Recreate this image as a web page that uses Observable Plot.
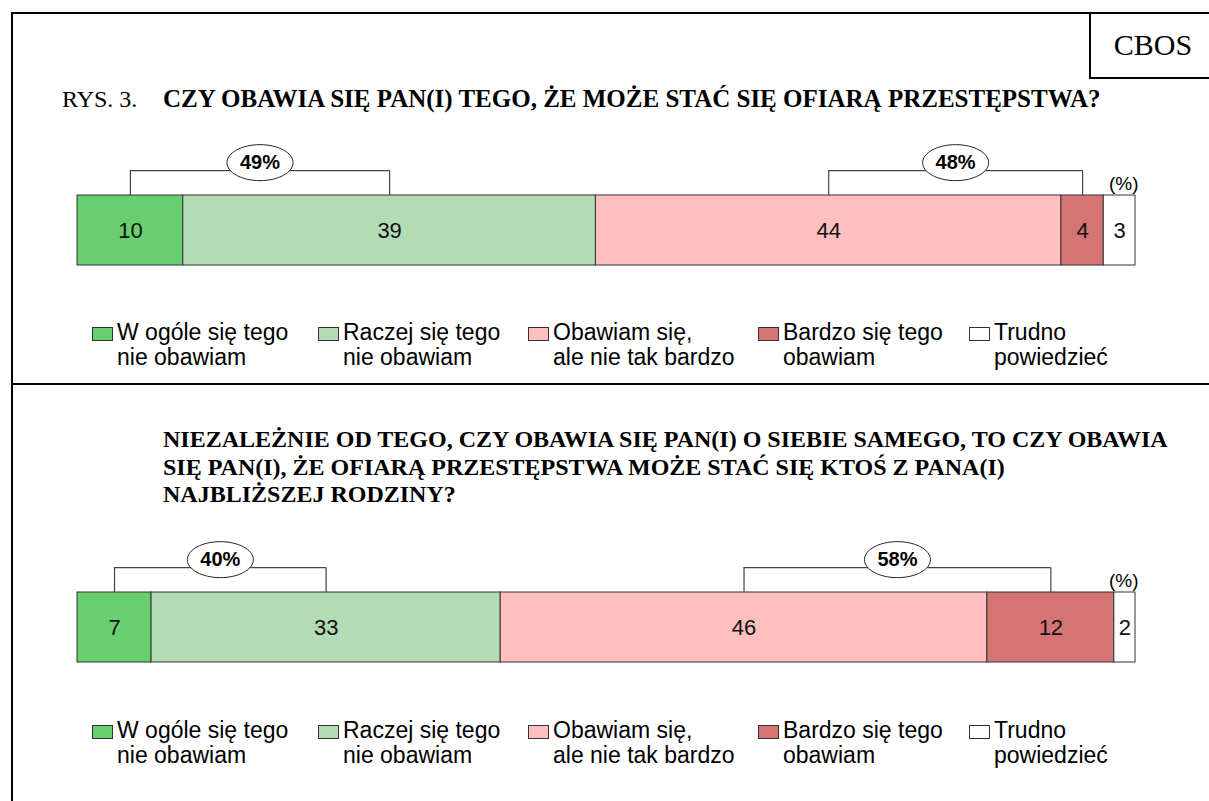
<!DOCTYPE html>
<html><head><meta charset="utf-8">
<script src="https://cdn.jsdelivr.net/npm/d3@7"></script>
<script src="https://cdn.jsdelivr.net/npm/@observablehq/plot@0.6"></script>
<style>
body{margin:0;background:#fff;}
#page{position:relative;width:1209px;height:801px;overflow:hidden;font-family:"Liberation Sans",Arial,sans-serif;color:#000;}
.abs{position:absolute;}
.line{position:absolute;background:#000;}
.serif{font-family:"Liberation Serif","Times New Roman",serif;white-space:nowrap;}
.legtext{position:absolute;white-space:pre;font-size:23px;line-height:25px;}
.sw{position:absolute;width:19px;height:12px;border:1px solid #333;}
</style></head><body><div id="page"></div>
<script>
// ---- data ----
const categories = ["W ogóle się tego\nnie obawiam", "Raczej się tego\nnie obawiam", "Obawiam się,\nale nie tak bardzo", "Bardzo się tego\nobawiam", "Trudno\npowiedzieć"];
const colors = ["#67cf70", "#b3dcb4", "#ffbfbf", "#d47474", "#ffffff"];
const q1Values = [10, 39, 44, 4, 3];
const q2Values = [7, 33, 46, 12, 2];
const bracketGroups = [[0, 1], [2, 3]];
const figureLabel = "RYS. 3.";
const q1Title = ["CZY OBAWIA SIĘ PAN(I) TEGO, ŻE MOŻE STAĆ SIĘ OFIARĄ PRZESTĘPSTWA?"];
const q2Title = ["NIEZALEŻNIE OD TEGO, CZY OBAWIA SIĘ PAN(I) O SIEBIE SAMEGO, TO CZY OBAWIA",
                 "SIĘ PAN(I), ŻE OFIARĄ PRZESTĘPSTWA MOŻE STAĆ SIĘ KTOŚ Z PANA(I)",
                 "NAJBLIŻSZEJ RODZINY?"];
const unitLabel = "(%)";
const sourceLabel = "CBOS";

// ---- layout ----
const page = document.getElementById("page");
function el(tag, cls, css, text) {
  const e = document.createElement(tag);
  if (cls) e.className = cls;
  Object.assign(e.style, css);
  if (text != null) e.textContent = text;
  page.appendChild(e);
  return e;
}
// frame
el("div", "line", {left: "11px", top: "12px", width: "1198px", height: "2px"});
el("div", "line", {left: "11px", top: "12px", width: "2px", height: "789px"});
el("div", "line", {left: "11px", top: "383px", width: "1198px", height: "2px"});
el("div", "line", {left: "1089px", top: "12px", width: "2px", height: "66px"});
el("div", "line", {left: "1089px", top: "77px", width: "120px", height: "2px"});
el("div", "abs serif", {left: "1093px", top: "27px", width: "120px", textAlign: "center", fontSize: "30px", lineHeight: "36px"}, sourceLabel);

// titles
el("div", "abs serif", {left: "62px", top: "85px", fontSize: "24px", lineHeight: "28px"}, figureLabel);
el("div", "abs serif", {left: "163px", top: "85px", fontSize: "25px", lineHeight: "28px", fontWeight: "bold"}, q1Title[0]);
const t2 = el("div", "abs serif", {left: "163px", top: "426px", fontSize: "24px", lineHeight: "27.5px", fontWeight: "bold"});
t2.innerHTML = q2Title.join("<br>");

const ellipse = {
  draw(ctx) {
    const rx = 33, ry = 18, k = 0.5523;
    ctx.moveTo(rx, 0);
    ctx.bezierCurveTo(rx, ry * k, rx * k, ry, 0, ry);
    ctx.bezierCurveTo(-rx * k, ry, -rx, ry * k, -rx, 0);
    ctx.bezierCurveTo(-rx, -ry * k, -rx * k, -ry, 0, -ry);
    ctx.bezierCurveTo(rx * k, -ry, rx, -ry * k, rx, 0);
    ctx.closePath();
  }
};

function panel(values, top) {
  const data = values.map((v, i) => ({category: categories[i], value: v}));
  const cum = d3.cumsum(values);
  const centers = values.map((v, i) => cum[i] - v / 2);
  const brackets = bracketGroups.map(g => ({
    xa: centers[g[0]], xb: centers[g[g.length - 1]],
    label: d3.sum(g, i => values[i]) + "%"
  }));
  const BR = 1.355;
  const h = 140;
  const svg = Plot.plot({
    width: 1209, height: h,
    style: {fontFamily: "Liberation Sans, Arial, sans-serif", background: "transparent", overflow: "visible"},
    x: {domain: [0, 100], range: [77, 1135], axis: null},
    y: {domain: [0, 1], range: [265 - 140, 195 - 140], axis: null},
    color: {domain: categories, range: colors},
    marks: [
      Plot.rectX(data, {x: "value", y1: 0, y2: 1, fill: "category", stroke: "#333", strokeWidth: 1}),
      Plot.text(data, Plot.stackX({x: "value", y: 0.5, text: d => String(d.value), fontSize: 22, fill: "#111"})),
      Plot.ruleX(brackets.flatMap(b => [b.xa, b.xb]), {x: d => d, y1: 1, y2: BR, stroke: "#444", strokeWidth: 1.2}),
      Plot.ruleY(brackets, {y: BR, x1: "xa", x2: "xb", stroke: "#444", strokeWidth: 1.2}),
      Plot.dot(brackets, {x: d => (d.xa + d.xb) / 2, y: BR, dy: -8, symbol: ellipse, fill: "white", stroke: "#222", strokeWidth: 1}),
      Plot.text(brackets, {x: d => (d.xa + d.xb) / 2, y: BR, dy: -8, text: "label", fontSize: 20, fontWeight: "bold", fill: "#000"}),
      Plot.text([unitLabel], {x: 100, y: 1, dy: -12, dx: 3, text: d => d, textAnchor: "end", fontSize: 19, fill: "#000"})
    ]
  });
  svg.style.position = "absolute";
  svg.style.left = "0px";
  svg.style.top = top + "px";
  page.appendChild(svg);
}
panel(q1Values, 140);
panel(q2Values, 537);

// legends
const legendX = [92, 318, 528, 758, 969];
function legend(rowTop) {
  categories.forEach((c, i) => {
    el("div", "sw", {left: legendX[i] + "px", top: (rowTop + 7) + "px", background: colors[i]});
    el("div", "legtext", {left: (legendX[i] + 25) + "px", top: rowTop + "px"}, c);
  });
}
legend(320);
legend(718);
</script>
</body></html>
